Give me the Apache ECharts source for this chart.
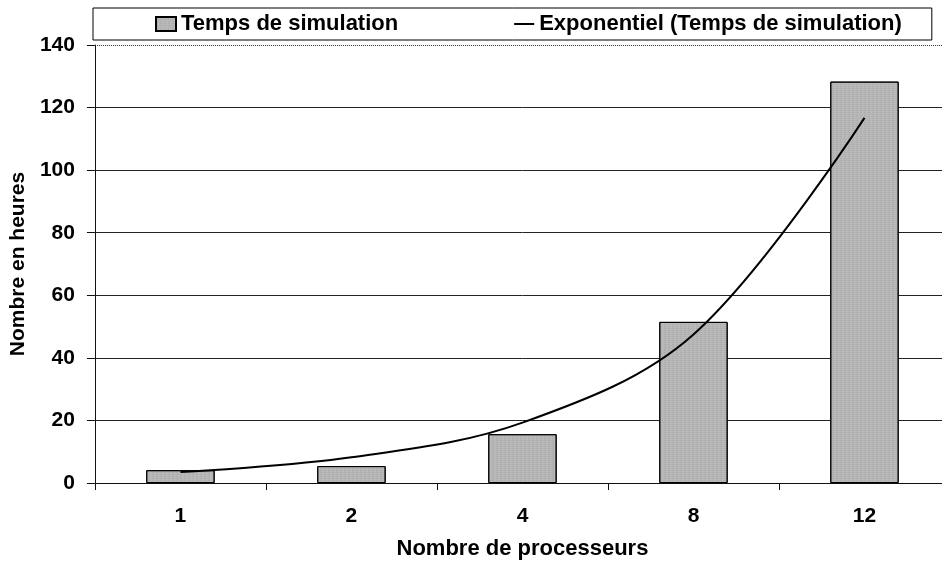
<!DOCTYPE html>
<html>
<head>
<meta charset="utf-8">
<script src="https://cdn.jsdelivr.net/npm/echarts@6/dist/echarts.min.js"></script>
<style>
html, body { margin: 0; padding: 0; background: #fff; overflow: hidden; }
#chart { width: 950px; height: 567px; }
</style>
</head>
<body>
<div id="chart"></div>
<script>
var processeurs = ['1', '2', '4', '8', '12'];
var tempsSimulation = [4.1, 5.4, 15.6, 51.5, 128.3];
var tendanceExp = [3.5, 8.2, 19.3, 47.5, 116.7];
var yMax = 140;
var yPas = 20;

var dom = document.getElementById('chart');
var myChart = echarts.init(dom, null, { renderer: 'canvas' });

var police = 'Liberation Sans, Arial, sans-serif';
var texte = { fontFamily: police, fontWeight: 'bold', color: '#000' };

var option = {
    animation: false,
    backgroundColor: '#fff',
    legend: {
        left: 93,
        top: 8,
        padding: [5, 30, 5, 62],
        itemGap: 116,
        itemWidth: 20,
        itemHeight: 14,
        borderColor: '#000',
        borderWidth: 1,
        textStyle: Object.assign({ fontSize: 22 }, texte),
        data: [
            { name: 'Temps de simulation', icon: 'rect' },
            {
                name: 'Exponentiel (Temps de simulation)',
                icon: 'path://M0,0M0,6H20V8H0ZM20,14',
                itemStyle: { color: '#000', borderWidth: 0 }
            }
        ]
    },
    grid: {
        left: 93,
        right: 0,
        top: 45,
        bottom: 84
    },
    xAxis: {
        type: 'category',
        data: processeurs,
        name: 'Nombre de processeurs',
        nameLocation: 'middle',
        nameGap: 55,
        nameTextStyle: Object.assign({ fontSize: 22 }, texte),
        axisLine: { lineStyle: { color: '#111', width: 1 } },
        axisTick: { show: true, length: 7, lineStyle: { color: '#111' } },
        axisLabel: Object.assign({ fontSize: 21, margin: 23 }, texte)
    },
    yAxis: {
        type: 'value',
        min: 0,
        max: yMax,
        interval: yPas,
        name: 'Nombre en heures',
        nameLocation: 'middle',
        nameGap: 65,
        nameTextStyle: Object.assign({ fontSize: 21 }, texte),
        axisLine: { show: true, lineStyle: { color: '#111', width: 1 } },
        axisTick: { show: true, length: 8, lineStyle: { color: '#111' } },
        axisLabel: Object.assign({ fontSize: 21, margin: 20 }, texte),
        splitLine: {
            show: true,
            lineStyle: { color: ['#222', '#222', '#222', '#222', '#222', '#222', '#222', 'rgba(0,0,0,0)'], width: 1 }
        }
    },
    series: [
        {
            name: 'Temps de simulation',
            type: 'bar',
            data: tempsSimulation,
            barWidth: '40%',
            itemStyle: {
                color: '#b8b8b8',
                borderColor: '#000',
                borderWidth: 1,
                decal: {
                    symbol: 'rect',
                    symbolSize: 0.5,
                    dashArrayX: [2, 2],
                    dashArrayY: [1, 1],
                    color: 'rgba(60,60,60,0.35)',
                    rotation: 0
                }
            },
            markLine: {
                silent: true,
                symbol: 'none',
                label: { show: false },
                lineStyle: { color: '#333', type: 'dotted', width: 1 },
                data: [{ yAxis: yMax }]
            }
        },
        {
            name: 'Exponentiel (Temps de simulation)',
            type: 'line',
            data: tendanceExp,
            smooth: 0.35,
            symbol: 'none',
            lineStyle: { color: '#000', width: 2 },
            itemStyle: { color: '#000' },
            z: 5
        }
    ]
};

myChart.setOption(option);
window.addEventListener('resize', myChart.resize);
</script>
</body>
</html>
